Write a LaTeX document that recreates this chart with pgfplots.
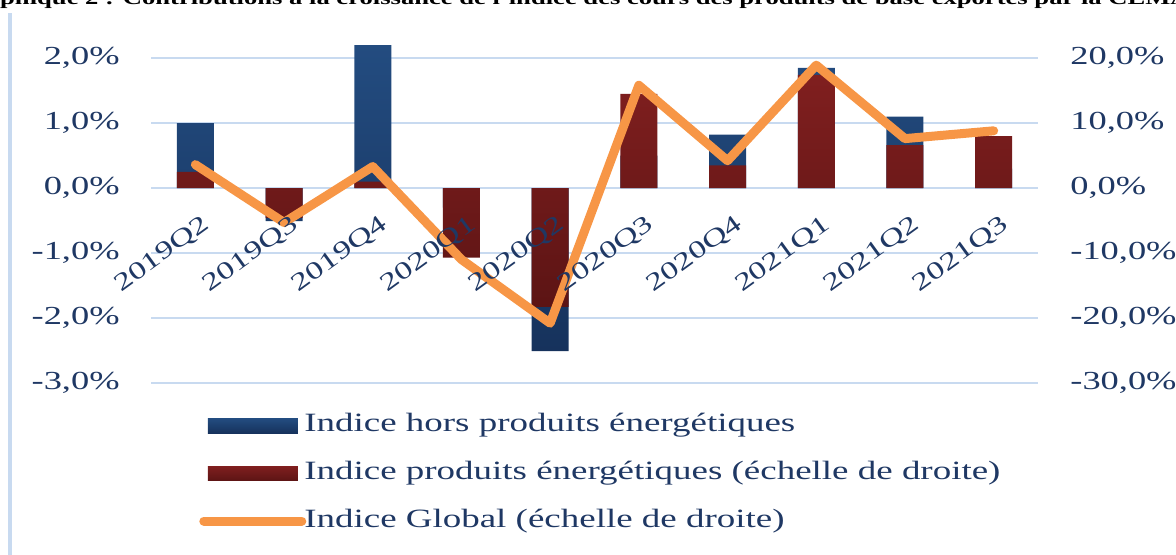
\documentclass[border=0pt]{standalone}
\usepackage{fontspec}
\setmainfont{Liberation Serif}[FakeStretch=1.4]
\usepackage{pgfplots}
\pgfplotsset{compat=1.18}
\definecolor{txt}{RGB}{31,56,100}
\definecolor{gridc}{RGB}{200,218,240}
\definecolor{orangeL}{RGB}{247,150,70}
\definecolor{blueT}{RGB}{35,76,128}
\definecolor{blueB}{RGB}{22,50,92}
\definecolor{redT}{RGB}{128,31,31}
\definecolor{redB}{RGB}{92,20,20}
\begin{document}
\begin{tikzpicture}
\begin{axis}[
  at={(75.5pt,-191.5pt)}, anchor=south west,
  scale only axis, width=443.5pt, height=169pt,
  xmin=-0.5, xmax=9.5, ymin=-3, ymax=2.2,
  axis x line=none, axis y line*=left,
  axis line style={draw=none},
  major tick length=0pt,
  ytick={-3,-2,-1,0,1,2},
  yticklabels={{-3,0\%},{-2,0\%},{-1,0\%},{0,0\%},{1,0\%},{2,0\%}},
  ymajorgrids, grid style={gridc, line width=1.3pt},
  tick label style={font=\fontsize{13}{15}\selectfont, text=txt},
  yticklabel style={anchor=east, inner sep=0pt, xshift=-15.5pt},
  /pgf/number format/assume math mode=true,
]
\addplot[ybar, bar shift=0pt, bar width=18.5pt, draw=none, top color=blueT, bottom color=blueB]
  coordinates {(0,1.0)(1,-0.51)(2,2.2)(3,-0.3)(4,-2.51)(5,0.5)(6,0.82)(7,1.85)(8,1.1)(9,0.3)};
\end{axis}
\begin{axis}[
  at={(75.5pt,-191.5pt)}, anchor=south west,
  scale only axis, width=443.5pt, height=169pt,
  xmin=-0.5, xmax=9.5, ymin=-30, ymax=22,
  axis x line*=middle, axis y line*=right,
  axis line style={draw=none},
  axis on top,
  major tick length=0pt,
  xtick={0,...,9},
  xticklabels={2019Q2,2019Q3,2019Q4,2020Q1,2020Q2,2020Q3,2020Q4,2021Q1,2021Q2,2021Q3},
  ytick={-30,-20,-10,0,10,20},
  yticklabels={{-30,0\%},{-20,0\%},{-10,0\%},{0,0\%},{10,0\%},{20,0\%}},
  tick label style={font=\fontsize{13}{15}\selectfont, text=txt},
  xticklabel style={font=\fontsize{12.3}{14}\selectfont, rotate=36, anchor=north east, inner sep=0pt, xshift=-5pt, yshift=-12pt},
  yticklabel style={anchor=west, inner sep=0pt, xshift=16pt},
  /pgf/number format/assume math mode=true,
  legend cell align=left,
  legend style={at={(axis description cs:0.054,-0.09)}, anchor=north west, draw=none, fill=none,
    inner sep=0pt, font=\fontsize{13.2}{15}\selectfont, text=txt,
    nodes={inner sep=0pt, text height=9pt, text depth=3pt},
    row sep=11.8pt, column sep=-1pt},
]
\addlegendimage{draw=none, legend image code/.code={\fill[draw=none, top color=blueT, bottom color=blueB] (0pt,-3.7pt) rectangle (45pt,3.7pt);}}
\addlegendentry{Indice hors produits énergétiques}
\addplot[ybar, bar shift=0pt, bar width=18.5pt, draw=none, top color=redT, bottom color=redB,
  legend image code/.code={\fill[draw=none, top color=redT, bottom color=redB] (0pt,-3.7pt) rectangle (45pt,3.7pt);}]
  coordinates {(0,2.5)(1,-4.6)(2,1.0)(3,-10.7)(4,-18.3)(5,14.5)(6,3.5)(7,17.4)(8,6.6)(9,8.0)};
\addlegendentry{Indice produits énergétiques (échelle de droite)}
\addplot[orangeL, line width=4.5pt, line join=round, line cap=round,
  legend image code/.code={\draw[orangeL, line width=4.5pt, line cap=round] (-2pt,0) -- (47pt,0);}]
  coordinates {(0,3.6)(1,-5.3)(2,3.3)(3,-11.0)(4,-20.8)(5,15.8)(6,4.2)(7,18.9)(8,7.6)(9,8.8)};
\addlegendentry{Indice Global (échelle de droite)}
\end{axis}
\draw[gridc, line width=2pt] (5pt,-6.5pt) -- (5pt,-280pt);
\node[anchor=base west, inner sep=0pt, font=\fontsize{9.5}{11}\selectfont\bfseries] at (-23pt,-2pt)
  {Graphique 2 : Contributions à la croissance de l'indice des cours des produits de base exportés par la CEMAC};
\pgfresetboundingbox
\path[use as bounding box] (0pt,0pt) rectangle (588pt,-277pt);
\end{tikzpicture}
\end{document}
